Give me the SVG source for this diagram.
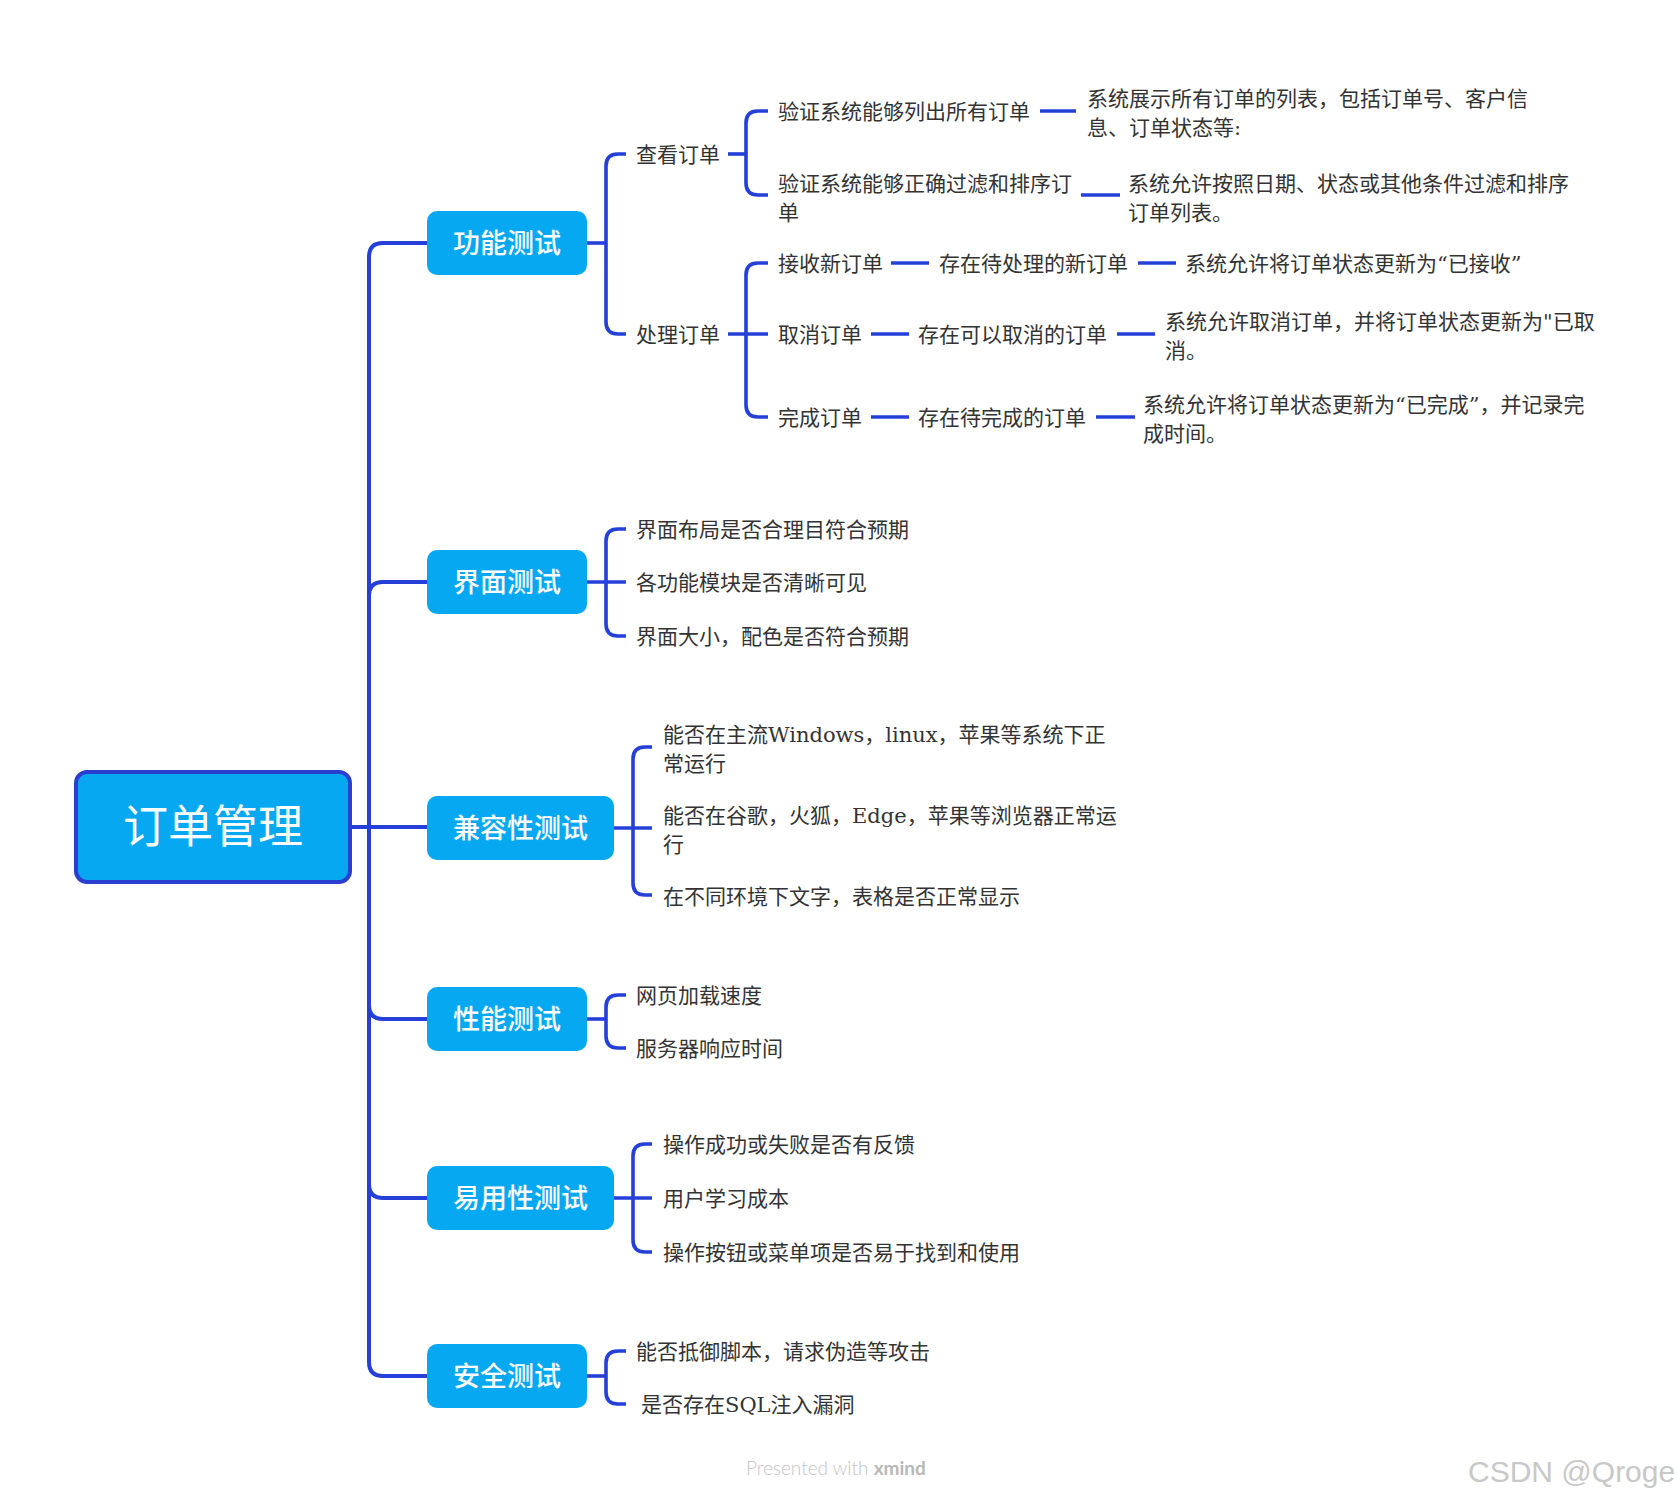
<svg xmlns="http://www.w3.org/2000/svg" width="1677" height="1501" viewBox="0 0 1677 1501">
<style>
.bg{fill:#ffffff}
.line{fill:none;stroke:#2540d8;stroke-width:3.6;stroke-linecap:butt;stroke-linejoin:round}
.trunk{fill:none;stroke:#2540d8;stroke-width:4;stroke-linejoin:round}
.root{fill:#07a8f2;stroke:#2a3fd0;stroke-width:4}
.cat{fill:#07a8f2}
.rt{font-family:"Noto Sans CJK SC","Liberation Sans",sans-serif;font-size:45px;fill:#ffffff;text-anchor:middle}
.ct{font-family:"Noto Sans CJK SC","Liberation Sans",sans-serif;font-size:27px;font-weight:500;fill:#ffffff;text-anchor:middle}
.t{font-family:"DejaVu Serif","Noto Sans CJK SC",serif;font-size:21px;fill:#333333}
.ft{font-family:"Lato","Liberation Sans",sans-serif;font-size:19px;fill:#c4c4c4;font-weight:300}
.ftb{font-weight:bold;fill:#b8b8b8}
.wm{font-family:"Liberation Sans",sans-serif;font-size:30px;fill:#c8c8c8}
</style>
<rect class="bg" x="0" y="0" width="1677" height="1501"/>

<g id="connectors">
  <path class="trunk" d="M350,827 H369"/>
  <path class="trunk" d="M369,827 V257 Q369,243 383,243 H427"/>
  <path class="trunk" d="M369,827 V596 Q369,582 383,582 H427"/>
  <path class="trunk" d="M350,827 H427"/>
  <path class="trunk" d="M369,827 V1005 Q369,1019 383,1019 H427"/>
  <path class="trunk" d="M369,827 V1184 Q369,1198 383,1198 H427"/>
  <path class="trunk" d="M369,827 V1362 Q369,1376 383,1376 H427"/>

  <path class="line" d="M587,243 H606"/>
  <path class="line" d="M626,154 H618 Q606,154 606,166 V322 Q606,334 618,334 H626"/>
  <path class="line" d="M728,154 H746"/>
  <path class="line" d="M768,111 H758 Q746,111 746,123 V183 Q746,195 758,195 H768"/>
  <path class="line" d="M728,334 H768"/>
  <path class="line" d="M768,263 H758 Q746,263 746,275 V405 Q746,417 758,417 H768"/>
  <path class="line" d="M1040,111 H1076"/>
  <path class="line" d="M1081,195 H1120"/>
  <path class="line" d="M891,263 H929"/>
  <path class="line" d="M1138,263 H1176"/>
  <path class="line" d="M871,334 H909"/>
  <path class="line" d="M1117,334 H1155"/>
  <path class="line" d="M871,417 H909"/>
  <path class="line" d="M1096,417 H1135"/>

  <path class="line" d="M587,582 H626"/>
  <path class="line" d="M626,529 H618 Q606,529 606,541 V624 Q606,636 618,636 H626"/>

  <path class="line" d="M614,828 H652"/>
  <path class="line" d="M652,747 H645 Q633,747 633,759 V883 Q633,895 645,895 H652"/>

  <path class="line" d="M587,1019 H606"/>
  <path class="line" d="M626,995 H618 Q606,995 606,1007 V1036 Q606,1048 618,1048 H626"/>

  <path class="line" d="M614,1198 H652"/>
  <path class="line" d="M652,1144 H645 Q633,1144 633,1156 V1240 Q633,1252 645,1252 H652"/>

  <path class="line" d="M587,1376 H606"/>
  <path class="line" d="M626,1351 H618 Q606,1351 606,1363 V1392 Q606,1404 618,1404 H626"/>
</g>

<g id="root">
  <rect class="root" x="76" y="772" width="274" height="110" rx="11"/>
  <text class="rt" x="213" y="843">订单管理</text>
</g>

<g id="cat-func">
  <rect class="cat" x="427" y="211" width="160" height="64" rx="10"/>
  <text class="ct" x="507" y="252.5">功能测试</text>
</g>
<g id="cat-ui">
  <rect class="cat" x="427" y="550" width="160" height="64" rx="10"/>
  <text class="ct" x="507" y="591.5">界面测试</text>
</g>
<g id="cat-compat">
  <rect class="cat" x="427" y="796" width="187" height="64" rx="10"/>
  <text class="ct" x="520.5" y="837.5">兼容性测试</text>
</g>
<g id="cat-perf">
  <rect class="cat" x="427" y="987" width="160" height="64" rx="10"/>
  <text class="ct" x="507" y="1028.5">性能测试</text>
</g>
<g id="cat-usab">
  <rect class="cat" x="427" y="1166" width="187" height="64" rx="10"/>
  <text class="ct" x="520.5" y="1207.5">易用性测试</text>
</g>
<g id="cat-sec">
  <rect class="cat" x="427" y="1344" width="160" height="64" rx="10"/>
  <text class="ct" x="507" y="1385.5">安全测试</text>
</g>

<g id="n-view"><text class="t" x="636" y="161.5">查看订单</text></g>
<g id="n-process"><text class="t" x="636" y="341.5">处理订单</text></g>

<g id="n-list"><text class="t" x="778" y="118.5">验证系统能够列出所有订单</text></g>
<g id="n-list-r"><text class="t" x="1087" y="105.5">系统展示所有订单的列表，包括订单号、客户信</text><text class="t" x="1087" y="134.5">息、订单状态等:</text></g>
<g id="n-filter"><text class="t" x="778" y="190.5">验证系统能够正确过滤和排序订</text><text class="t" x="778" y="219.5">单</text></g>
<g id="n-filter-r"><text class="t" x="1128" y="190.5">系统允许按照日期、状态或其他条件过滤和排序</text><text class="t" x="1128" y="219.5">订单列表。</text></g>

<g id="n-recv"><text class="t" x="778" y="270.5">接收新订单</text></g>
<g id="n-recv-c"><text class="t" x="939" y="270.5">存在待处理的新订单</text></g>
<g id="n-recv-r"><text class="t" x="1185" y="270.5">系统允许将订单状态更新为“已接收”</text></g>

<g id="n-cancel"><text class="t" x="778" y="341.5">取消订单</text></g>
<g id="n-cancel-c"><text class="t" x="918" y="341.5">存在可以取消的订单</text></g>
<g id="n-cancel-r"><text class="t" x="1165" y="328.5">系统允许取消订单，并将订单状态更新为"已取</text><text class="t" x="1165" y="357.5">消。</text></g>

<g id="n-done"><text class="t" x="778" y="424.5">完成订单</text></g>
<g id="n-done-c"><text class="t" x="918" y="424.5">存在待完成的订单</text></g>
<g id="n-done-r"><text class="t" x="1143" y="411.5">系统允许将订单状态更新为“已完成”，并记录完</text><text class="t" x="1143" y="440.5">成时间。</text></g>

<g id="n-ui1"><text class="t" x="636" y="536.5">界面布局是否合理目符合预期</text></g>
<g id="n-ui2"><text class="t" x="636" y="589.5">各功能模块是否清晰可见</text></g>
<g id="n-ui3"><text class="t" x="636" y="643.5">界面大小，配色是否符合预期</text></g>

<g id="n-c1"><text class="t" x="663" y="741.5">能否在主流Windows，linux，苹果等系统下正</text><text class="t" x="663" y="770.5">常运行</text></g>
<g id="n-c2"><text class="t" x="663" y="822.5">能否在谷歌，火狐，Edge，苹果等浏览器正常运</text><text class="t" x="663" y="851.5">行</text></g>
<g id="n-c3"><text class="t" x="663" y="903.5">在不同环境下文字，表格是否正常显示</text></g>

<g id="n-p1"><text class="t" x="636" y="1002.5">网页加载速度</text></g>
<g id="n-p2"><text class="t" x="636" y="1055.5">服务器响应时间</text></g>

<g id="n-u1"><text class="t" x="663" y="1151.5">操作成功或失败是否有反馈</text></g>
<g id="n-u2"><text class="t" x="663" y="1205.5">用户学习成本</text></g>
<g id="n-u3"><text class="t" x="663" y="1259.5">操作按钮或菜单项是否易于找到和使用</text></g>

<g id="n-s1"><text class="t" x="636" y="1358.5">能否抵御脚本，请求伪造等攻击</text></g>
<g id="n-s2"><text class="t" x="641" y="1411.5">是否存在SQL注入漏洞</text></g>

<g id="footer">
  <text class="ft" x="746" y="1475">Presented with <tspan class="ftb">xmind</tspan></text>
  <text class="wm" x="1468" y="1482">CSDN @Qroge</text>
</g>
</svg>
